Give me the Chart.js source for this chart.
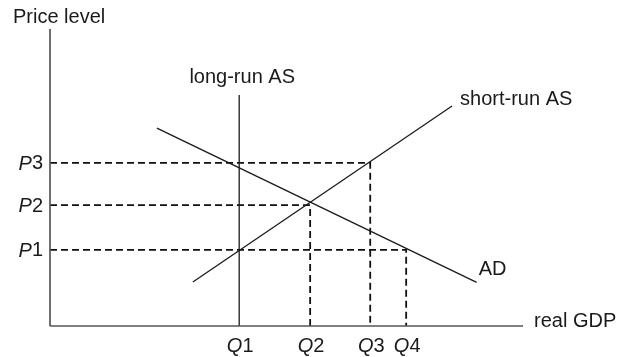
<!DOCTYPE html>
<html>
<head>
<meta charset="utf-8">
<script src="https://cdn.jsdelivr.net/npm/chart.js@4/dist/chart.umd.min.js"></script>
<style>
html,body{margin:0;padding:0;background:#fff;}
#wrap{width:629px;height:357px;}
</style>
</head>
<body>
<div id="wrap"><canvas id="c" width="629" height="357"></canvas></div>
<script>
// ---- data (abstract units: 0..100 on both axes) ----
const qLabels = ['Q1', 'Q2', 'Q3', 'Q4'];
const qValues = [40.0, 55.0, 67.7, 75.3];
const pLabels = ['P1', 'P2', 'P3'];
const pValues = [25.6, 40.7, 54.9];
const adX = [22.6, 90.2];
const adY = [66.6, 14.7];
const srasX = [30.2, 85.0];
const srasY = [14.8, 74.1];
const lrasTop = 77.8;
const axisMax = 100;
const xAxisTitle = 'real GDP';
const yAxisTitle = 'Price level';
const curveNames = ['long-run AS', 'short-run AS', 'AD'];

const FONT = '"Liberation Sans", Arial, sans-serif';
const INK = '#1a1a1a';

function pts(xs, ys) { return xs.map((x, i) => ({x: x, y: ys[i]})); }

const base = {showLine: true, pointRadius: 0, fill: false, clip: false, tension: 0};
const datasets = [
  Object.assign({}, base, {data: [{x: 0, y: 0}, {x: 0, y: axisMax}], borderColor: '#555', borderWidth: 1.7}),
  Object.assign({}, base, {data: [{x: 0, y: 0}, {x: axisMax, y: 0}], borderColor: '#555', borderWidth: 1.7}),
  Object.assign({}, base, {data: [{x: qValues[0], y: 0}, {x: qValues[0], y: lrasTop}], borderColor: INK, borderWidth: 1.3}),
  Object.assign({}, base, {data: pts(adX, adY), borderColor: INK, borderWidth: 1.3}),
  Object.assign({}, base, {data: pts(srasX, srasY), borderColor: INK, borderWidth: 1.3}),
  // dashed guides: P3 -> Q3, P2 -> Q2, P1 -> Q4
  Object.assign({}, base, {data: [{x: 0, y: pValues[2]}, {x: qValues[2], y: pValues[2]}, {x: qValues[2], y: 0}], borderColor: '#111', borderWidth: 1.8, borderDash: [7, 4]}),
  Object.assign({}, base, {data: [{x: 0, y: pValues[1]}, {x: qValues[1], y: pValues[1]}, {x: qValues[1], y: 0}], borderColor: '#111', borderWidth: 1.8, borderDash: [7, 4]}),
  Object.assign({}, base, {data: [{x: 0, y: pValues[0]}, {x: qValues[3], y: pValues[0]}, {x: qValues[3], y: 0}], borderColor: '#111', borderWidth: 1.8, borderDash: [7, 4]})
];

function drawMixed(ctx, label, xRight, yMid, align) {
  // italic letter + regular digit(s)
  const letter = label[0], rest = label.slice(1);
  ctx.font = 'italic 20px ' + FONT;
  const w1 = ctx.measureText(letter).width;
  ctx.font = '20px ' + FONT;
  const w2 = ctx.measureText(rest).width;
  let left;
  if (align === 'right') left = xRight - w1 - w2;
  else left = xRight - (w1 + w2) / 2;
  ctx.textAlign = 'left';
  ctx.font = 'italic 20px ' + FONT;
  ctx.fillText(letter, left, yMid);
  ctx.font = '20px ' + FONT;
  ctx.fillText(rest, left + w1, yMid);
}

const labelPlugin = {
  id: 'labels',
  afterDatasetsDraw(chart) {
    const ctx = chart.ctx;
    const xs = chart.scales.x, ys = chart.scales.y;
    const x0 = xs.getPixelForValue(0), y0 = ys.getPixelForValue(0);
    ctx.save();
    ctx.fillStyle = INK;
    ctx.textBaseline = 'alphabetic';
    ctx.font = '20px ' + FONT;
    // axis titles
    ctx.textAlign = 'left';
    ctx.fillText(yAxisTitle, x0 - 37, ys.getPixelForValue(axisMax) - 6);
    ctx.fillText(xAxisTitle, xs.getPixelForValue(axisMax) + 11, y0 + 1);
    // curve names
    ctx.textAlign = 'center';
    ctx.fillText(curveNames[0], xs.getPixelForValue(qValues[0]) + 3, ys.getPixelForValue(lrasTop) - 12);
    ctx.textAlign = 'left';
    ctx.fillText(curveNames[1], xs.getPixelForValue(srasX[1]) + 8, ys.getPixelForValue(srasY[1]) - 1);
    ctx.fillText(curveNames[2], xs.getPixelForValue(adX[1]) + 2, ys.getPixelForValue(adY[1]) - 7);
    // P ticks
    ctx.textBaseline = 'middle';
    pLabels.forEach((l, i) => drawMixed(ctx, l, x0 - 7, ys.getPixelForValue(pValues[i]) + 1, 'right'));
    // Q ticks
    ctx.textBaseline = 'alphabetic';
    qLabels.forEach((l, i) => drawMixed(ctx, l, xs.getPixelForValue(qValues[i]) + 1, y0 + 26, 'center'));
    ctx.restore();
  }
};

new Chart(document.getElementById('c'), {
  type: 'scatter',
  data: {datasets: datasets},
  options: {
    responsive: false,
    animation: false,
    events: [],
    layout: {padding: {left: 50, right: 106, top: 29, bottom: 31}},
    plugins: {legend: {display: false}, tooltip: {enabled: false}},
    scales: {
      x: {type: 'linear', min: 0, max: axisMax, display: false},
      y: {type: 'linear', min: 0, max: axisMax, display: false}
    }
  },
  plugins: [labelPlugin]
});
</script>
</body>
</html>
